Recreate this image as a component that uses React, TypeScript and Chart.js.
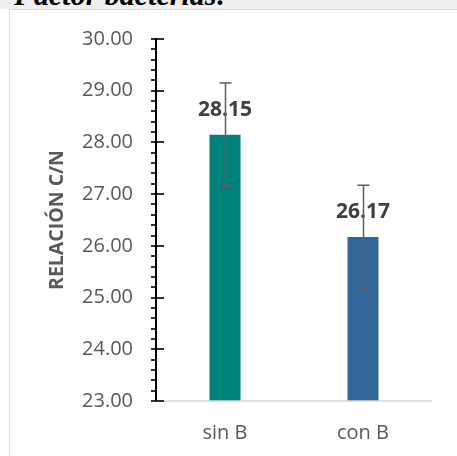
import React, { useEffect, useRef } from "react";
import { Chart, registerables } from "chart.js";

Chart.register(...registerables);

// Relación C/N por tratamiento (factor bacterias)
const categories = ["sin B", "con B"];
const relacionCN = [28.15, 26.17];
const errorCN = [1.0, 1.0];
const barColors = ["#00807B", "#336699"];
const yMin = 23;
const yMax = 30;
const yStep = 1;
const yMinorStep = 0.2;

const FONT = "'Open Sans', 'Noto Sans', sans-serif";

const marksPlugin = {
  id: "marks",
  afterDatasetsDraw(chart: any) {
    const { ctx, chartArea, scales } = chart;
    const y = scales.y;
    const { left, right, bottom, top } = chartArea;
    ctx.save();

    // category axis line
    ctx.strokeStyle = "#d9d9d9";
    ctx.lineWidth = 1.5;
    ctx.beginPath();
    ctx.moveTo(left, bottom);
    ctx.lineTo(right, bottom);
    ctx.stroke();

    // value axis with major (crossing) and minor (outside) ticks
    ctx.strokeStyle = "#000000";
    ctx.lineWidth = 2;
    ctx.beginPath();
    ctx.moveTo(left, top - 1);
    ctx.lineTo(left, bottom);
    ctx.stroke();
    const nMinor = Math.round((yMax - yMin) / yMinorStep);
    ctx.lineWidth = 1.6;
    for (let i = 0; i <= nMinor; i++) {
      const v = yMin + i * yMinorStep;
      const py = Math.round(y.getPixelForValue(v));
      const major = Math.abs(v / yStep - Math.round(v / yStep)) < 1e-6;
      ctx.beginPath();
      ctx.moveTo(left - 5, py);
      ctx.lineTo(major ? left + 8 : left + 1, py);
      ctx.stroke();
    }

    const meta = chart.getDatasetMeta(0);
    // value labels
    ctx.fillStyle = "#404040";
    ctx.font = `bold 21px ${FONT}`;
    ctx.textAlign = "center";
    ctx.textBaseline = "middle";
    meta.data.forEach((el: any, i: number) => {
      ctx.fillText(relacionCN[i].toFixed(2), el.x, el.y - 25);
    });

    // error bars
    ctx.strokeStyle = "#5f5f5f";
    ctx.lineWidth = 1.5;
    meta.data.forEach((el: any, i: number) => {
      const hi = y.getPixelForValue(relacionCN[i] + errorCN[i]);
      const lo = y.getPixelForValue(relacionCN[i] - errorCN[i]);
      const x = Math.round(el.x) + 0.5;
      ctx.beginPath();
      ctx.moveTo(x, hi);
      ctx.lineTo(x, lo);
      ctx.moveTo(x - 6, hi);
      ctx.lineTo(x + 6, hi);
      ctx.moveTo(x - 6, lo);
      ctx.lineTo(x + 6, lo);
      ctx.stroke();
    });
    ctx.restore();
  },
};

export default function App() {
  const canvasRef = useRef<HTMLCanvasElement | null>(null);

  useEffect(() => {
    if (!canvasRef.current) return;
    const chart = new Chart(canvasRef.current, {
      type: "bar",
      data: {
        labels: categories,
        datasets: [
          {
            data: relacionCN,
            backgroundColor: barColors,
            categoryPercentage: 1,
            barPercentage: 0.225,
          },
        ],
      },
      options: {
        responsive: false,
        maintainAspectRatio: false,
        animation: false,
        layout: { padding: { left: 0, top: 39, right: 25, bottom: 0 } },
        plugins: { legend: { display: false }, tooltip: { enabled: false } },
        scales: {
          x: {
            grid: { display: false, drawTicks: false },
            border: { display: false },
            ticks: {
              color: "#595959",
              font: { family: FONT, size: 20 },
              padding: 20,
            },
            afterFit: (scale: any) => {
              scale.height = 55;
            },
          },
          y: {
            min: yMin,
            max: yMax,
            grid: { display: false, drawTicks: false },
            border: { display: false },
            ticks: {
              stepSize: yStep,
              color: "#595959",
              font: { family: FONT, size: 20 },
              padding: 23,
              callback: (v: any) => Number(v).toFixed(2),
            },
            title: {
              display: true,
              text: "RELACIÓN C/N",
              color: "#595959",
              font: { family: FONT, size: 19.5, weight: "bold" },
              padding: { top: 46, bottom: 0 },
            },
            afterFit: (scale: any) => {
              scale.width = 156;
            },
          },
        },
      },
      plugins: [marksPlugin],
    });
    return () => chart.destroy();
  }, []);

  return (
    <div
      style={{
        position: "absolute",
        left: 0,
        top: 0,
        width: 457,
        height: 456,
        overflow: "hidden",
        background: "#ffffff",
      }}
    >
      <div
        style={{
          position: "absolute",
          left: 0,
          top: 0,
          width: 457,
          height: 9,
          background: "#efefef",
        }}
      />
      <div
        style={{
          position: "absolute",
          left: 14,
          top: -20,
          fontFamily: "'Liberation Serif', serif",
          fontStyle: "italic",
          fontWeight: "bold",
          fontSize: 30,
          lineHeight: "30px",
          color: "#000000",
          whiteSpace: "nowrap",
        }}
      >
        Factor bacterias:
      </div>
      <div
        style={{
          position: "absolute",
          left: 9,
          top: 9,
          width: 460,
          height: 460,
          borderLeft: "1.5px solid #d9d9d9",
          borderTop: "1.5px solid #d9d9d9",
          boxSizing: "border-box",
        }}
      />
      <canvas
        ref={canvasRef}
        width={457}
        height={456}
        style={{ position: "absolute", left: 0, top: 0, width: 457, height: 456 }}
      />
    </div>
  );
}
